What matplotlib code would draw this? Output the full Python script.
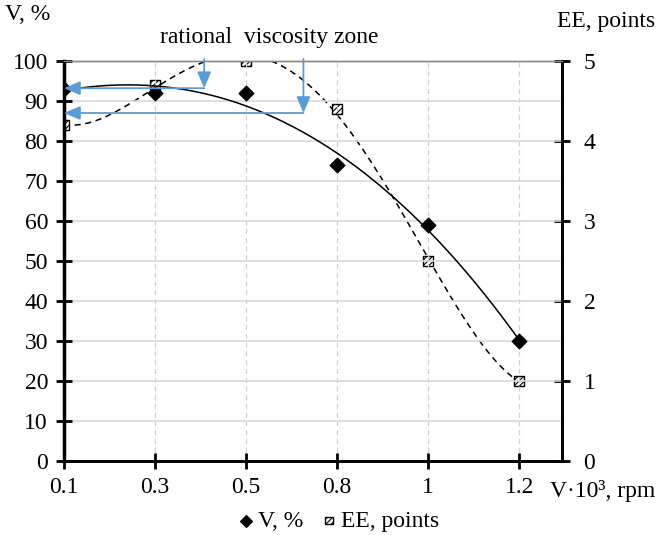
import numpy as np
import matplotlib.pyplot as plt

plt.rcParams['font.family'] = ['Liberation Serif', 'DejaVu Serif']
plt.rcParams['hatch.linewidth'] = 0.8

categories = ['0.1', '0.3', '0.5', '0.8', '1', '1.2']
v_percent = [93, 92, 92, 74, 59, 30]
ee_points = [4.2, 4.7, 5.0, 4.4, 2.5, 1.0]
arrow_x = [1.54, 2.63]
arrow_y = [93.2, 87.0]

pos = np.arange(len(categories))
W, H = 658, 535

fig = plt.figure(figsize=(W / 100, H / 100), dpi=100)
ax = fig.add_axes([64 / W, 74 / H, (562 - 64) / W, (461 - 61) / H])
ax2 = ax.twinx()

fs = 17

# grid
for p in pos:
    ax.axvline(p, color='#d0d0d0', lw=0.9, ls=(0, (4, 3)), zorder=0)
for yv in range(10, 100, 10):
    ax.axhline(yv, color='#d9d9d9', lw=1.2, zorder=0)

# polynomial trendlines (as in the original chart)
xs = np.linspace(pos[0], pos[-1], 300)
cv = np.polyfit(pos, v_percent, 3)
ax.plot(xs, np.polyval(cv, xs), color='black', lw=1.1, zorder=3)
ce = np.polyfit(pos, ee_points, 4)
ax2.plot(xs, np.polyval(ce, xs), color='black', lw=1.1, ls=(0, (4, 3)), zorder=3)

# markers
ax.scatter(pos, v_percent, marker='D', s=55, color='black', zorder=5, label='V, %')
ax2.scatter(pos, ee_points, marker='s', s=50, facecolor='white', edgecolor='black',
            hatch='//////', linewidths=1.0, zorder=5, label='EE, points')

# arrows of the rational viscosity zone
blue = '#5b9bd5'
style = '-|>,head_length=0.7,head_width=0.3'
for xa, ya in zip(arrow_x, arrow_y):
    ax.annotate('', xy=(xa, ya), xytext=(xa, 100.5),
                arrowprops=dict(arrowstyle=style, color=blue, lw=1.3,
                                mutation_scale=14, shrinkA=0, shrinkB=0), zorder=6)
    ax.annotate('', xy=(0, ya), xytext=(xa, ya),
                arrowprops=dict(arrowstyle=style, color=blue, lw=1.3,
                                mutation_scale=14, shrinkA=0, shrinkB=0), zorder=6)

ax.set_xlim(0, 5.47)
ax.set_ylim(0, 100)
ax2.set_ylim(0, 5)
ax.set_xticks(pos)
ax.set_xticklabels(categories)
ax.set_yticks(range(0, 101, 10))
ax2.set_yticks(range(0, 6))

for a in (ax, ax2):
    a.spines['top'].set_color('#888888')
    a.spines['top'].set_linewidth(1.0)
    for s in ('left', 'right', 'bottom'):
        a.spines[s].set_linewidth(2.0)
    a.tick_params(direction='inout', length=11, width=2.0, labelsize=fs, colors='black')
ax.spines['left'].set_linewidth(2.5)
ax.tick_params(axis='y', pad=6)
ax.tick_params(axis='x', pad=6)
ax2.tick_params(axis='y', pad=10)
ax2.spines['left'].set_visible(False)
ax.set_zorder(ax2.get_zorder() + 1)
ax.patch.set_visible(False)

fig.text(5 / W, 1 - 15 / H, 'V, %', fontsize=fs, va='center', ha='left')
fig.text(1 - 3 / W, 1 - 22 / H, 'EE, points', fontsize=fs, va='center', ha='right')
fig.text(269 / W, 1 - 38 / H, 'rational  viscosity zone', fontsize=fs, va='center', ha='center')
fig.text(1 - 3 / W, 1 - 491 / H, 'V·10³, rpm', fontsize=fs, va='center', ha='right')

h1, l1 = ax.get_legend_handles_labels()
h2, l2 = ax2.get_legend_handles_labels()
fig.legend(h1 + h2, l1 + l2, loc='center', bbox_to_anchor=(338 / W, 1 - 521 / H),
           ncol=2, frameon=False, fontsize=fs, handletextpad=0.1, columnspacing=0.7,
           handlelength=0.8, markerscale=0.8, borderpad=0.1)

fig.savefig('out.png', dpi=100)
